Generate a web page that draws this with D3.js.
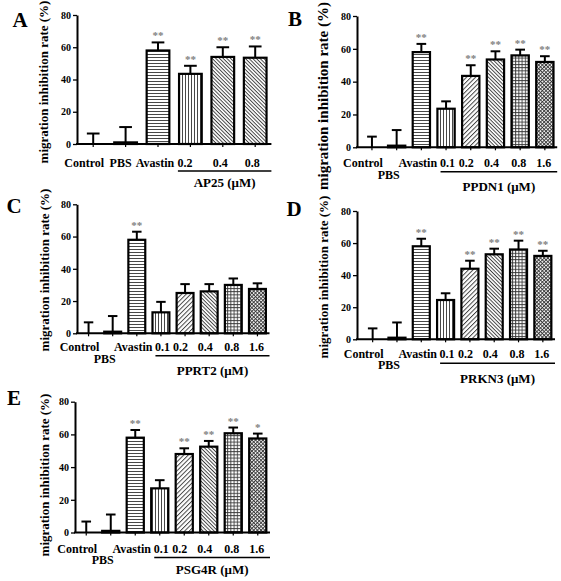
<!DOCTYPE html>
<html><head><meta charset="utf-8">
<script src="https://cdn.jsdelivr.net/npm/d3@7"></script>
<style>
body{margin:0;background:#fff}
svg{display:block}
text{font-family:"Liberation Serif","Times New Roman",serif;font-weight:bold;fill:#000}
</style>
</head><body><svg id="c" width="561" height="581"></svg>
<script>
// ---------- data ----------
const yTicks = [0, 20, 40, 60, 80];
const yLabel = "migration inhibition rate (%)";

const catsA = ["Control", "PBS", "Avastin", "0.2", "0.4", "0.8"];
const valsA = [0, 1, 58, 43.5, 54, 53.5];
const errA  = [6.5, 9.5, 5, 5, 6, 7];
const sigA  = ["", "", "**", "**", "**", "**"];
const unitA = "AP25 (μM)";

const catsB = ["Control", "PBS", "Avastin", "0.1", "0.2", "0.4", "0.8", "1.6"];
const valsB = [0, 1, 58, 23.5, 43.5, 53.5, 56, 52];
const errB  = [6.5, 9.5, 5, 4.5, 6.5, 5, 3.5, 3.5];
const sigB  = ["", "", "**", "", "**", "**", "**", "**"];
const unitB = "PPDN1 (μM)";

const catsC = ["Control", "PBS", "Avastin", "0.1", "0.2", "0.4", "0.8", "1.6"];
const valsC = [0, 1, 58, 13, 25, 26, 30, 27.5];
const errC  = [6.8, 9.7, 5, 6.5, 5.5, 4.5, 4, 3.5];
const sigC  = ["", "", "**", "", "", "", "", ""];
const unitC = "PPRT2 (μM)";

const catsD = ["Control", "PBS", "Avastin", "0.1", "0.2", "0.4", "0.8", "1.6"];
const valsD = [0, 1, 58, 24.5, 44, 53, 56, 52];
const errD  = [6.8, 9.5, 4.7, 4.2, 5, 3.5, 5.5, 3.2];
const sigD  = ["", "", "**", "", "**", "**", "**", "**"];
const unitD = "PRKN3 (μM)";

const catsE = ["Control", "PBS", "Avastin", "0.1", "0.2", "0.4", "0.8", "1.6"];
const valsE = [0, 1, 58, 27, 48, 52.5, 60.7, 57.5];
const errE  = [6.7, 10, 4.7, 5, 3.5, 3.5, 3.5, 3];
const sigE  = ["", "", "**", "", "**", "**", "**", "*"];
const unitE = "PSG4R (μM)";

// ---------- layout ----------
const nudge8 = [-9, -8, -3.5, 1.5, -4.5, -4, -1.5, -1];
const panels = [
  {letter:"A", lx:20, ly:20, cats:catsA, vals:valsA, err:errA, sig:sigA, unit:unitA,
   x0:77, xr:[77,271.4], yTop:15, yBot:144, ylx:43, ylc:82, ylf:13, pbsRow2:false,
   nudge:[-9, -5, -3, -5.5, -2.5, -3],
   row1:19, row2:30, line:27, grp:38,
   pats:["none","none","ph","pv","pd2","pd2"]},
  {letter:"B", lx:295, ly:19, cats:catsB, vals:valsB, err:errB, sig:sigB, unit:unitB,
   x0:357, xr:[359.6,557.2], yTop:16, yBot:147.3, ylx:323, ylc:96, ylf:15, pbsRow2:true, nudge:nudge8,
   row1:16, row2:28, line:24.5, grp:39.5,
   pats:["none","none","ph","pv","pd1","pd2","pg","px"]},
  {letter:"C", lx:14, ly:206, cats:catsC, vals:valsC, err:errC, sig:sigC, unit:unitC,
   x0:77, xr:[76.5,269.5], yTop:204.3, yBot:333.3, ylx:44, ylc:270, ylf:13, pbsRow2:true, nudge:nudge8,
   row1:14, row2:25.5, line:22.5, grp:37,
   pats:["none","none","ph","pv","pd1","pd2","pg","px"]},
  {letter:"D", lx:294, ly:209, cats:catsD, vals:valsD, err:errD, sig:sigD, unit:unitD,
   x0:357, xr:[360.5,555], yTop:211, yBot:339.3, ylx:323, ylc:277, ylf:13, pbsRow2:true, nudge:nudge8,
   row1:14.5, row2:26, line:24, grp:39,
   pats:["none","none","ph","pv","pd1","pd2","pg","px"]},
  {letter:"E", lx:14, ly:398, cats:catsE, vals:valsE, err:errE, sig:sigE, unit:unitE,
   x0:75, xr:[74,270], yTop:401.7, yBot:532.5, ylx:44, ylc:475, ylf:13, pbsRow2:true, nudge:nudge8,
   row1:16, row2:27.5, line:25, grp:37,
   pats:["none","none","ph","pv","pd1","pd2","pg","px"]}
];

const svg = d3.select("#c");
svg.append("rect").attr("width",561).attr("height",581).attr("fill","#fff");

// ---------- patterns ----------
const defs = svg.append("defs");
const lineCol = "#333";
function linePattern(id, size, rot, both){
  const p = defs.append("pattern").attr("id", id)
    .attr("patternUnits","userSpaceOnUse").attr("width", size).attr("height", size)
    .attr("patternTransform", `rotate(${rot})`);
  p.append("rect").attr("width", size).attr("height", size).attr("fill","#fff");
  p.append("line").attr("x1",0).attr("y1",0.5).attr("x2",size).attr("y2",0.5)
    .attr("stroke",lineCol).attr("stroke-width",0.9);
  if (both) p.append("line").attr("x1",0.5).attr("y1",0).attr("x2",0.5).attr("y2",size)
    .attr("stroke",lineCol).attr("stroke-width",0.9);
}
linePattern("ph", 3, 0, false);
linePattern("pv", 3, 90, false);
linePattern("pd1", 3.2, -45, false);
linePattern("pd2", 2.6, 45, false);
linePattern("pg", 3.2, 0, true);
linePattern("px", 2.6, 45, true);

// ---------- draw ----------
panels.forEach(P => {
  const g = svg.append("g");
  const x = d3.scaleBand().domain(P.cats).range(P.xr).paddingInner(0.3).paddingOuter(0.15);
  const y = d3.scaleLinear().domain([0, 80]).range([P.yBot, P.yTop]);
  const bw = x.bandwidth();

  g.append("text").attr("x", P.lx).attr("y", P.ly).attr("text-anchor","middle")
    .attr("dominant-baseline","central").attr("font-size", 21).text(P.letter);

  g.append("text").attr("transform", `translate(${P.ylx},${P.ylc}) rotate(-90)`)
    .attr("text-anchor","middle").attr("dominant-baseline","central")
    .attr("font-size", P.ylf).text(yLabel);

  const idx = d3.range(P.cats.length);
  g.selectAll("rect.bar").data(idx.filter(i => P.vals[i] > 0)).join("rect")
    .attr("x", i => x(P.cats[i])).attr("width", bw)
    .attr("y", i => y(P.vals[i])).attr("height", i => y(0) - y(P.vals[i]))
    .attr("fill", i => P.pats[i] === "none" ? "#fff" : `url(#${P.pats[i]})`)
    .attr("stroke","#000").attr("stroke-width", 2.2);

  idx.forEach(i => {
    const cx = x(P.cats[i]) + bw/2;
    const top = y(P.vals[i] + P.err[i]);
    g.append("line").attr("x1",cx).attr("x2",cx).attr("y1",y(P.vals[i])).attr("y2",top)
      .attr("stroke","#000").attr("stroke-width",2);
    g.append("line").attr("x1",cx-bw*0.28).attr("x2",cx+bw*0.28).attr("y1",top).attr("y2",top)
      .attr("stroke","#000").attr("stroke-width",2);
    if (P.sig[i]) g.append("text").attr("x",cx).attr("y",top-3).attr("text-anchor","middle")
      .attr("font-size",11).style("fill","#808080").text(P.sig[i]);
  });

  const ya = g.append("g").attr("transform",`translate(${P.x0},0)`)
    .call(d3.axisLeft(y).tickValues(yTicks).tickSize(4).tickPadding(2).tickSizeOuter(0));
  ya.select(".domain").attr("stroke","#000").attr("stroke-width",2);
  ya.selectAll(".tick line").attr("stroke","#000").attr("stroke-width",1.3);
  ya.selectAll(".tick text").attr("font-size",10).attr("font-family",null);

  g.append("line").attr("x1",P.x0-1).attr("x2",P.xr[1]).attr("y1",P.yBot).attr("y2",P.yBot)
    .attr("stroke","#000").attr("stroke-width",2);
  idx.forEach(i => {
    const cx = x(P.cats[i]) + bw/2;
    g.append("line").attr("x1",cx).attr("x2",cx).attr("y1",P.yBot).attr("y2",P.yBot+3)
      .attr("stroke","#000").attr("stroke-width",1.2);
    const row2 = P.pbsRow2 && P.cats[i] === "PBS";
    g.append("text").attr("x", cx + P.nudge[i]).attr("y", P.yBot + (row2 ? P.row2 : P.row1))
      .attr("text-anchor","middle").attr("dominant-baseline","central")
      .attr("font-size",12).text(P.cats[i]);
  });

  const first = x(P.cats[3]) + bw/2 + P.nudge[3] - 7;
  g.append("line").attr("x1", first).attr("x2", P.xr[1]).attr("y1", P.yBot+P.line).attr("y2", P.yBot+P.line)
    .attr("stroke","#000").attr("stroke-width",1.5);
  g.append("text").attr("x", (first + P.xr[1])/2).attr("y", P.yBot + P.grp)
    .attr("text-anchor","middle").attr("dominant-baseline","central")
    .attr("font-size",13).text(P.unit);
});
</script>
</body></html>
